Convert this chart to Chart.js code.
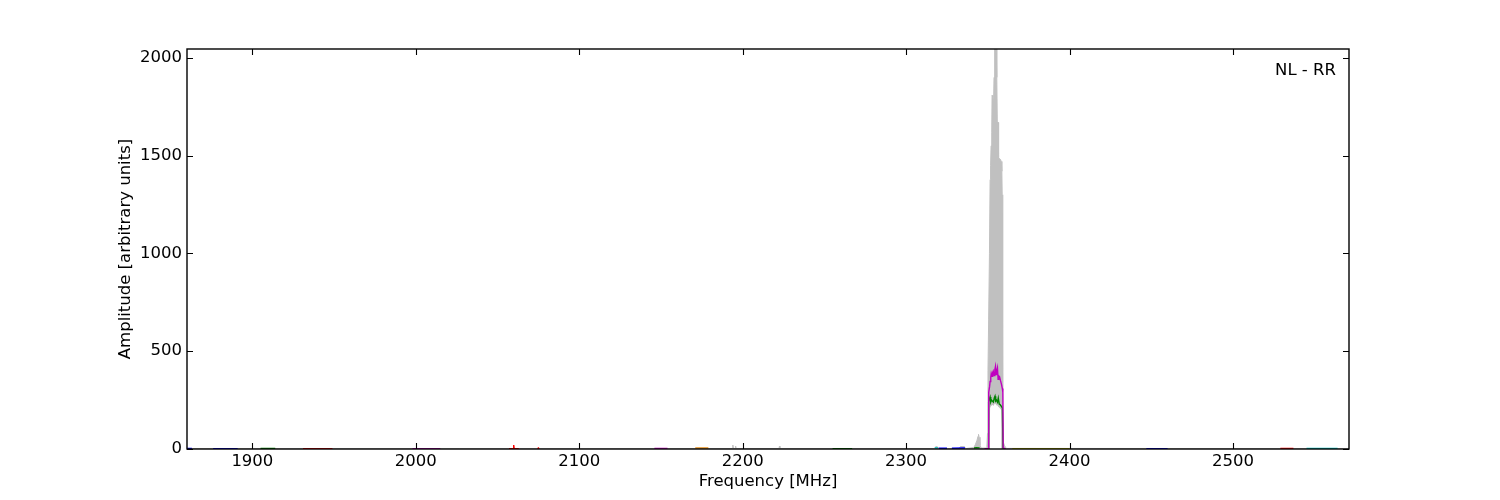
<!DOCTYPE html>
<html>
<head>
<meta charset="utf-8">
<script src="https://cdn.jsdelivr.net/npm/chart.js@4.4.0/dist/chart.umd.min.js"></script>
<style>
  html, body { margin: 0; padding: 0; background: #ffffff; }
  #wrap { width: 1500px; height: 500px; }
</style>
</head>
<body>
<div id="wrap"><canvas id="c" width="1500" height="500"></canvas></div>
<script>
// ---------------- data ----------------
const xTickVals = [1900, 2000, 2100, 2200, 2300, 2400, 2500];
const yTickVals = [0, 500, 1000, 1500, 2000];
const xRange = [1860, 2571];
const yRange = [0, 2045];
const panelLabel = 'NL - RR';
const xTitle = 'Frequency [MHz]';
const yTitle = 'Amplitude [arbitrary units]';

// grey envelope (max / min over time)
const envFreq = [1860, 2193.7, 2194.0, 2194.3, 2195.4, 2195.7, 2196.0, 2222.2, 2222.5, 2222.8,
  2317.5, 2318.2, 2319.4, 2320.0, 2332.3, 2333.3, 2335.8, 2336.3, 2341.5, 2342.5, 2343.4, 2344.0,
  2344.3, 2344.7, 2345.2, 2346.0, 2349.4, 2349.8, 2350.1, 2350.5, 2351.0, 2351.4, 2351.7, 2352.0,
  2352.4, 2352.6, 2353.1, 2353.5, 2353.8, 2354.1, 2354.3, 2355.2, 2355.4, 2355.6, 2355.8, 2356.3,
  2356.6, 2357.2, 2357.8, 2358.2, 2358.6, 2358.8, 2359.0, 2359.2, 2359.5, 2360.1, 2360.7, 2361.6, 2571];
const envMax = [2, 2, 20, 2, 2, 15, 2, 2, 15, 2,
  2, 13, 10, 2, 2, 13, 12, 2, 8, 25, 45, 65,
  75, 60, 20, 5, 5, 80, 400, 660, 1000, 1377, 1450, 1550,
  1620, 1808, 1800, 1760, 1900, 2000, 2045, 2045, 2010, 1900, 1675, 1670,
  1489, 1485, 1480, 1470, 1420, 1300, 800, 300, 35, 20, 10, 3, 2];
const envMin = [0, 0, 0, 0, 0, 0, 0, 0, 0, 0,
  0, 0, 0, 0, 0, 0, 0, 0, 0, 0, 0, 0,
  0, 0, 0, 0, 0, 0, 0, 0, 0, 210, 215, 220,
  222, 225, 225, 220, 228, 230, 232, 225, 228, 222, 220, 225,
  215, 210, 205, 200, 0, 0, 0, 0, 0, 0, 0, 0, 0];

// magenta trace
const magFreq = [2348.0, 2350.3, 2350.4, 2350.7, 2351.1, 2351.4, 2351.8, 2352.1, 2352.6, 2353.0, 2353.3,
  2353.9, 2354.3, 2354.7, 2355.1, 2355.5, 2355.9, 2356.3, 2356.7, 2357.2, 2357.8, 2358.3, 2358.9,
  2359.2, 2359.4, 2359.8, 2361.0];
const magAmp = [2, 2, 240, 290, 320, 345, 365, 386, 372, 392, 398,
  375, 405, 422, 380, 398, 414, 356, 374, 369, 348, 333, 309,
  290, 8, 3, 2];

// green trace
const grnFreq = [2350.4, 2350.5, 2350.9, 2351.4, 2351.8, 2352.3, 2352.8, 2353.4, 2354.0, 2354.4, 2354.8,
  2355.3, 2355.9, 2356.4, 2357.0, 2357.6, 2358.3, 2358.9, 2359.3, 2359.8];
const grnAmp = [3, 240, 255, 266, 240, 250, 245, 240, 262, 270, 245,
  250, 240, 260, 230, 226, 218, 210, 5, 2];

// small baseline traces (null = break)
const bluFreq = [1860, 1863, 1863.5, 1876, 1891, 1891.5, 2320, 2325, 2325.5, 2328, 2336, 2336.5, 2447, 2460];
const bluAmp  = [3, 3, null, 2, 2, null, 4, 4, null, 4, 5, null, 2, 2];
const redFreq = [1931, 1949, 1950, 2057, 2059.6, 2059.9, 2060.2, 2063, 2064, 2074.5, 2075, 2075.5, 2076, 2529, 2537];
const redAmp  = [2, 2, null, 2, 2, 20, 2, 2, null, 1, 5, 1, null, 3, 3];
const g2Freq  = [1905, 1914, 1915, 2255, 2267, 2268, 2341.6, 2343, 2345];
const g2Amp   = [3, 3, null, 2, 2, null, 5, 7, 6];
const cyaFreq = [2317.5, 2319.5, 2320, 2545, 2564];
const cyaAmp  = [6, 6, null, 3, 3];
const m2Freq  = [1998, 2015, 2016, 2146, 2154];
const m2Amp   = [2, 2, null, 3, 3];
const orgFreq = [2171, 2179];
const orgAmp  = [5, 5];
const yelFreq = [2365, 2400];
const yelAmp  = [2, 2];

// ---------------- build ----------------
const pts = (xs, ys) => xs.map((x, i) => ({ x: x, y: ys[i] }));
const line = (xs, ys, color, order) => ({
  data: pts(xs, ys), borderColor: color, backgroundColor: color, borderWidth: 1.4,
  pointRadius: 0, fill: false, tension: 0, spanGaps: false, order: order
});

const FONT = '"DejaVu Sans", "Liberation Sans", sans-serif';

const framePlugin = {
  id: 'frame',
  afterDatasetsDraw(chart) {
    const { ctx, chartArea: a, scales } = chart;
    ctx.save();
    ctx.strokeStyle = '#000';
    ctx.lineWidth = 1.1;
    const tl = 6;
    ctx.beginPath();
    xTickVals.forEach(v => {
      const px = Math.round(scales.x.getPixelForValue(v)) + 0.5;
      ctx.moveTo(px, a.bottom); ctx.lineTo(px, a.bottom - tl);
      ctx.moveTo(px, a.top); ctx.lineTo(px, a.top + tl);
    });
    yTickVals.forEach(v => {
      const py = Math.round(scales.y.getPixelForValue(v)) + 0.5;
      ctx.moveTo(a.left, py); ctx.lineTo(a.left + tl, py);
      ctx.moveTo(a.right, py); ctx.lineTo(a.right - tl, py);
    });
    ctx.stroke();
    ctx.lineWidth = 1.4;
    ctx.strokeRect(a.left, a.top, a.right - a.left, a.bottom - a.top);
    ctx.fillStyle = '#000';
    ctx.font = '16.5px ' + FONT;
    ctx.textAlign = 'right';
    ctx.textBaseline = 'middle';
    ctx.fillText(panelLabel, a.right - 13, a.top + 22);
    ctx.restore();
  }
};

new Chart(document.getElementById('c'), {
  type: 'line',
  data: {
    datasets: [
      { data: pts(envFreq, envMax), borderColor: '#c0c0c0', backgroundColor: '#c0c0c0',
        borderWidth: 1, pointRadius: 0, fill: '+1', tension: 0, order: 10 },
      { data: pts(envFreq, envMin), borderColor: 'rgba(0,0,0,0)', borderWidth: 0,
        pointRadius: 0, fill: false, tension: 0, order: 11 },
      line(bluFreq, bluAmp, '#0000ff', 5),
      line(redFreq, redAmp, '#ff0000', 5),
      line(g2Freq, g2Amp, '#008000', 5),
      line(cyaFreq, cyaAmp, '#00bfbf', 5),
      line(m2Freq, m2Amp, '#bf00bf', 5),
      line(orgFreq, orgAmp, '#e08000', 5),
      line(yelFreq, yelAmp, '#bfbf00', 5),
      line(grnFreq, grnAmp, '#008000', 2),
      line(magFreq, magAmp, '#bf00bf', 1)
    ]
  },
  options: {
    responsive: false,
    animation: false,
    events: [],
    layout: { padding: { left: 0, right: 151, top: 49, bottom: 0 } },
    plugins: { legend: { display: false }, tooltip: { enabled: false }, title: { display: false } },
    scales: {
      x: {
        type: 'linear', min: xRange[0], max: xRange[1],
        grid: { display: false, drawTicks: false },
        border: { display: false },
        afterBuildTicks: s => { s.ticks = xTickVals.map(v => ({ value: v })); },
        afterFit: s => { s.height = 51; },
        ticks: { color: '#000', padding: 3, maxRotation: 0, autoSkip: false,
                 font: { family: FONT, size: 16.5 }, callback: v => String(v) },
        title: { display: true, text: xTitle, color: '#000', padding: { top: 0, bottom: 8 },
                 font: { family: FONT, size: 16.5 } }
      },
      y: {
        type: 'linear', min: yRange[0], max: yRange[1],
        grid: { display: false, drawTicks: false },
        border: { display: false },
        afterBuildTicks: s => { s.ticks = yTickVals.map(v => ({ value: v })); },
        afterFit: s => { s.width = 187; },
        ticks: { color: '#000', padding: 5, autoSkip: false,
                 font: { family: FONT, size: 16.5 }, callback: v => String(v) },
        title: { display: true, text: yTitle, color: '#000', padding: { top: 116, bottom: 0 },
                 font: { family: FONT, size: 16.5 } }
      }
    }
  },
  plugins: [framePlugin]
});
</script>
</body>
</html>
